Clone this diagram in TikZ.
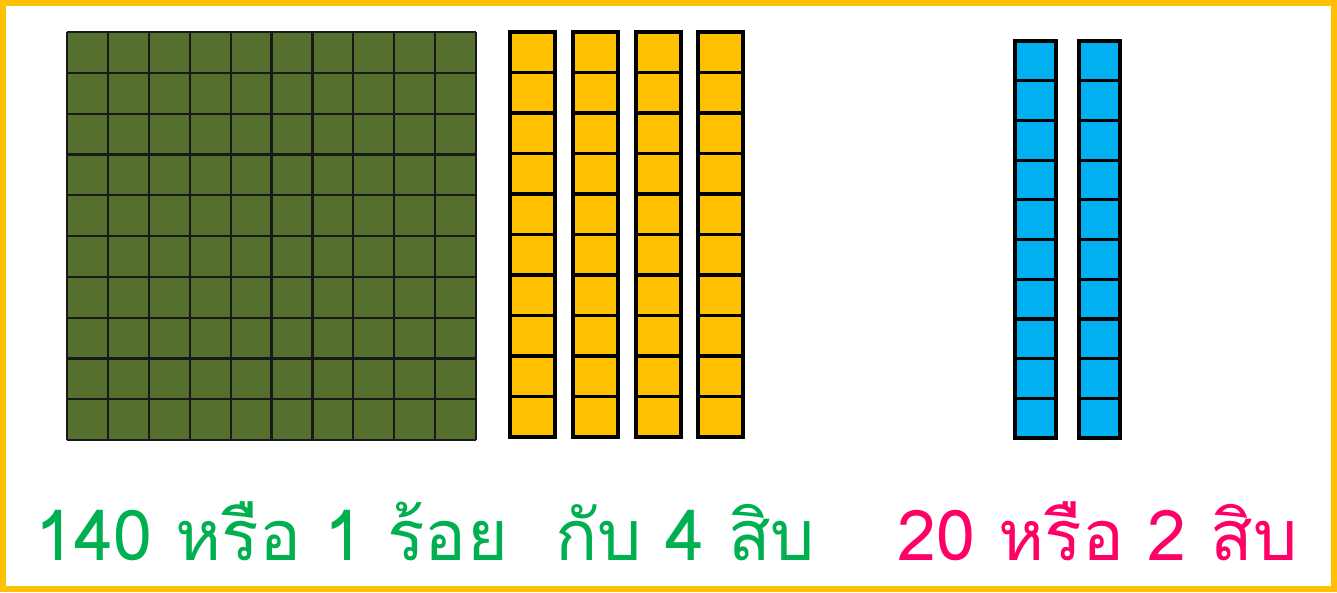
\documentclass[tikz,border=0pt]{standalone}
\usepackage{fontspec}
\newfontfamily\thaifont[Script=Thai]{Loma}
\usetikzlibrary{positioning}
\definecolor{frame}{HTML}{FFC000}
\definecolor{olive}{HTML}{556F2E}
\definecolor{rodyellow}{HTML}{FFC000}
\definecolor{rodblue}{HTML}{00B0F0}
\definecolor{labelgreen}{HTML}{00B050}
\definecolor{labelpink}{HTML}{FF0066}

\begin{document}
\begin{tikzpicture}[x=1pt, y=-1pt,
  hundred/.style={draw=black!90, line width=2.2pt, fill=olive},
  rod/.style={draw=black, line width=3.2pt},
  caption/.style={font=\thaifont\fontsize{70}{80}\selectfont, anchor=base west, inner sep=0pt}]
  \useasboundingbox (0,0) rectangle (1337,592);
  % Frame
  \draw[frame, line width=6pt] (3,3) rectangle (1334,589);

  % Hundred square
  \fill[olive] (67,32) rectangle (476,440);
  \foreach \i in {0,...,10} {
    \draw[hundred] (67+40.9*\i,32) -- (67+40.9*\i,440);
    \draw[hundred] (67,32+40.8*\i) -- (476,32+40.8*\i);
  }

  % Yellow tens
  \foreach \x in {510,573,636,698} {
    \foreach \j in {0,...,9}
      \draw[rod, fill=rodyellow] (\x,32+40.5*\j) rectangle (\x+45,32+40.5*\j+40.5);
  }

  % Blue tens
  \foreach \x in {1015,1079} {
    \foreach \j in {0,...,9}
      \draw[rod, fill=rodblue] (\x,41+39.7*\j) rectangle (\x+41,41+39.7*\j+39.7);
  }

  % Captions
  \node[caption, labelgreen] (left) at (35,560) {140 หรือ 1 ร้อย\ \ กับ 4 สิบ};
  \node[caption, labelpink] (right) at (897,560) {20 หรือ 2 สิบ};
\end{tikzpicture}
\end{document}
